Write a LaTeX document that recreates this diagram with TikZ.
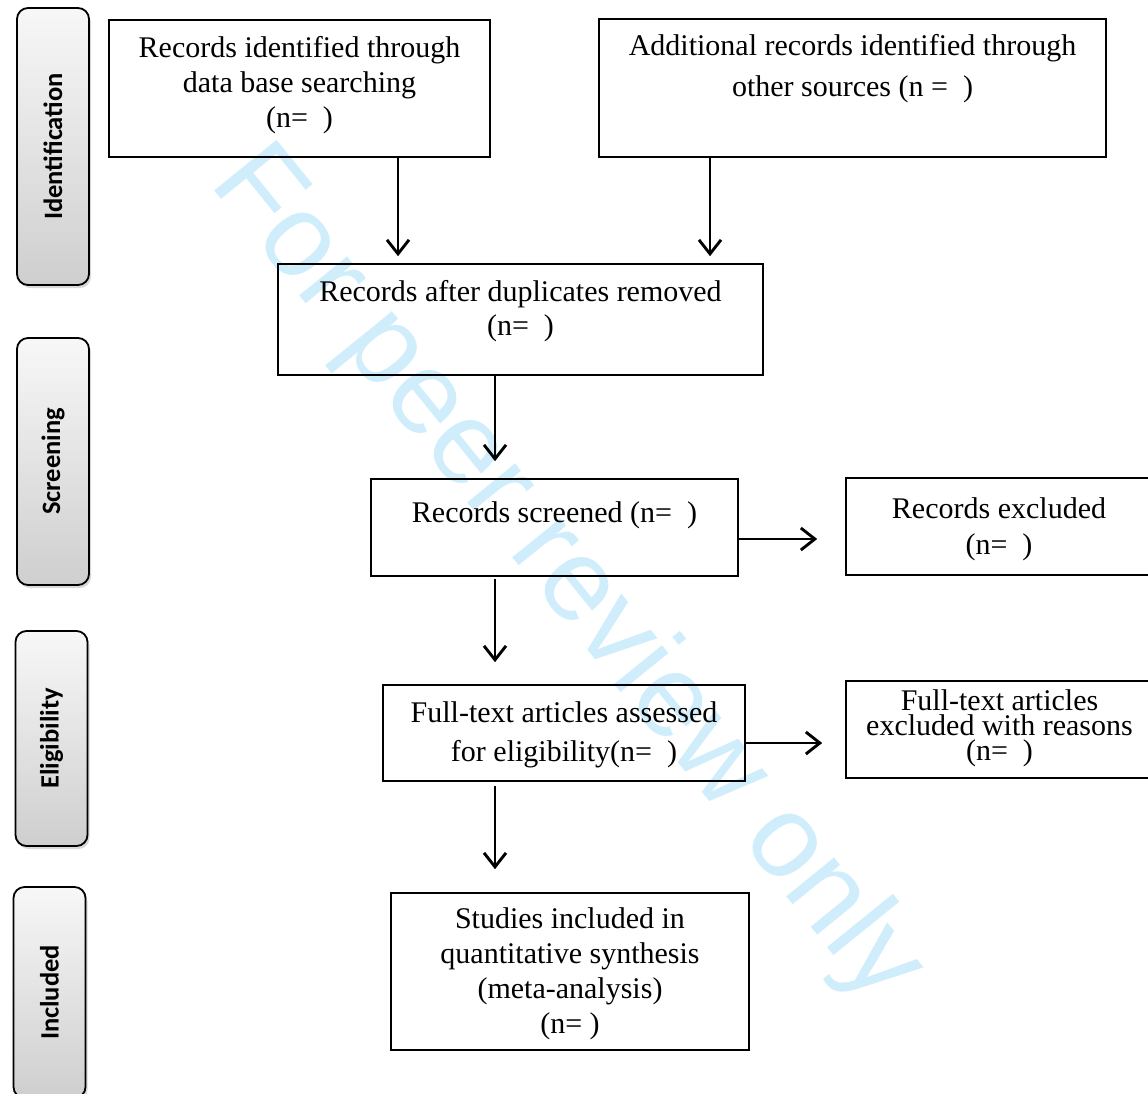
\documentclass[tikz,border=0pt]{standalone}
\usepackage{fontspec}
\setmainfont{Liberation Serif}
\newfontfamily\phasefont{Carlito}
\newfontfamily\markfont{Liberation Sans}
\usetikzlibrary{arrows.meta,shadows}
\definecolor{markblue}{RGB}{208,237,251}
\tikzset{
  stage/.style={draw, line width=1.6pt, inner sep=0pt},
  stagetext/.style={anchor=north, align=center, inner sep=0pt},
  phase/.style={draw, line width=1.8pt, rounded corners=11pt, rotate=90,
    top color=gray!6, bottom color=gray!38, minimum height=72pt,
    drop shadow={opacity=0.3, shadow xshift=2pt, shadow yshift=-3pt},
    font=\phasefont\bfseries\fontsize{26.5}{30}\selectfont},
  flow/.style={line width=2.9pt, -{Straight Barb[length=14pt,width=22pt]}},
}
\begin{document}
\begin{tikzpicture}[x=1pt, y=-1pt]
\useasboundingbox (0,0) rectangle (1148,1093);

% watermark
\node[rotate=-51, text=markblue, font=\markfont\fontsize{117}{120}\selectfont] (watermark) at (566,576) {For peer review only};

% phases
\node[phase, minimum width=277pt] (identification) at (53,146.5) {Identification};
\node[phase, minimum width=247pt] (screening) at (53,461.5) {Screening};
\node[phase, minimum width=215pt] (eligibility) at (51.5,738.5) {Eligibility};
\node[phase, minimum width=211pt] (included) at (49.5,992.5) {Included};

% boxes
\node[stage, minimum width=381pt, minimum height=137pt] (dbsearch) at (299.5,88.5) {};
\node[stagetext, font=\fontsize{30}{35}\selectfont] (dbsearch-t) at ([yshift=-16.5pt]dbsearch.north) {Records identified through\\data base searching\\(n=\ \ )};

\node[stage, minimum width=507pt, minimum height=138pt] (othersrc) at (852.5,88) {};
\node[stagetext, font=\fontsize{30}{41}\selectfont] (othersrc-t) at ([yshift=-15.5pt]othersrc.north) {Additional records identified through\\other sources (n =\ \ )};

\node[stage, minimum width=485pt, minimum height=111pt] (dup) at (520.5,319.5) {};
\node[stagetext, font=\fontsize{30}{34}\selectfont] (dup-t) at ([yshift=-16.5pt]dup.north) {Records after duplicates removed\\(n=\ \ )};

\node[stage, minimum width=367pt, minimum height=97pt] (screened) at (554.5,527.5) {};
\node[stagetext, font=\fontsize{30}{35}\selectfont] (screened-t) at ([yshift=-23.5pt]screened.north) {Records screened (n=\ \ )};

\node[stage, minimum width=306pt, minimum height=97pt] (excluded) at (999,526.5) {};
\node[stagetext, font=\fontsize{30}{36}\selectfont] (excluded-t) at ([yshift=-20.5pt]excluded.north) {Records excluded\\(n=\ \ )};

\node[stage, minimum width=362pt, minimum height=96pt] (fulltext) at (564,733) {};
\node[stagetext, font=\fontsize{30}{39}\selectfont] (fulltext-t) at ([yshift=-17.5pt]fulltext.north) {Full-text articles assessed\\for eligibility(n=\ \ )};

\node[stage, minimum width=307pt, minimum height=97pt] (ftexcluded) at (999.5,729.5) {};
\node[stagetext, font=\fontsize{30}{25}\selectfont] (ftexcluded-t) at ([yshift=-9.5pt]ftexcluded.north) {Full-text articles\\excluded with reasons\\(n=\ \ )};

\node[stage, minimum width=358pt, minimum height=157pt] (studies) at (570,971.5) {};
\node[stagetext, font=\fontsize{30}{35}\selectfont] (studies-t) at ([yshift=-15.5pt]studies.north) {Studies included in\\quantitative synthesis\\(meta-analysis)\\(n= )};

% arrows
\coordinate (leftdrop) at (398,0);
\coordinate (rightdrop) at (710,0);
\coordinate (spine) at (495,0);
\coordinate (row1) at (0,539);
\coordinate (row2) at (0,743);
\draw[flow, shorten >=7pt] (dbsearch.south -| leftdrop) -- (dup.north -| leftdrop);
\draw[flow, shorten >=7pt] (othersrc.south -| rightdrop) -- (dup.north -| rightdrop);
\draw[flow, shorten >=17pt] (dup.south -| spine) -- (screened.north -| spine);
\draw[flow, shorten <=2pt, shorten >=22pt] (screened.south -| spine) -- (fulltext.north -| spine);
\draw[flow, shorten <=4pt, shorten >=23pt] (fulltext.south -| spine) -- (studies.north -| spine);
\draw[flow, shorten >=28pt] (screened.east |- row1) -- (excluded.west |- row1);
\draw[flow, shorten >=23pt] (fulltext.east |- row2) -- (ftexcluded.west |- row2);
\end{tikzpicture}
\end{document}
